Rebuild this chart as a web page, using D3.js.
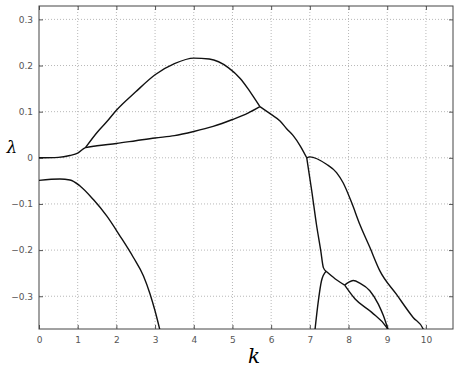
<!DOCTYPE html>
<html>
<head>
<meta charset="utf-8">
<script src="https://cdn.jsdelivr.net/npm/d3@7"></script>
<style>
  body { margin: 0; background: #fff; }
  svg { display: block; }
</style>
</head>
<body>
<div id="chart"></div>
<script>
// tick values
const xTicks = [0, 1, 2, 3, 4, 5, 6, 7, 8, 9, 10];
const yTicks = [-0.3, -0.2, -0.1, 0, 0.1, 0.2, 0.3];

// branches, [k, lambda], k increasing
const lowerRising = [[0, 0], [0.5, 0.001], [0.8, 0.005], [1.0, 0.01], [1.2, 0.022], [1.5, 0.026],
    [2, 0.031], [2.5, 0.037], [3, 0.043], [3.5, 0.048], [4, 0.057], [4.5, 0.068],
    [5, 0.083], [5.4, 0.097], [5.71, 0.111]];
const upperArch = [[1.2, 0.022], [1.5, 0.055], [1.75, 0.078], [2, 0.103], [2.5, 0.143],
    [3, 0.18], [3.5, 0.204], [4, 0.216], [4.4, 0.214], [4.9, 0.195], [5.2, 0.172],
    [5.4, 0.15], [5.6, 0.125], [5.71, 0.111]];
const merged = [[5.71, 0.111], [6.0, 0.094], [6.23, 0.08], [6.4, 0.063], [6.57, 0.048],
    [6.75, 0.026], [6.92, 0.0]];
const steepBranch = [[6.92, 0.0], [7.05, -0.072], [7.17, -0.144], [7.28, -0.2],
    [7.35, -0.238], [7.42, -0.246]];
const risingBranch = [[7.13, -0.375], [7.22, -0.31], [7.3, -0.267], [7.42, -0.246]];
const rightBranch = [[6.92, 0.0], [7.0, 0.002], [7.43, -0.014], [7.69, -0.032], [7.86, -0.054],
    [8.08, -0.097], [8.29, -0.144], [8.55, -0.194], [8.81, -0.245], [9.24, -0.296],
    [9.67, -0.346], [9.93, -0.371], [9.95, -0.375]];
const cornerBranch = [[7.42, -0.246], [7.65, -0.262], [7.9, -0.276]];
const loopUpper = [[7.9, -0.276], [8.0, -0.27], [8.12, -0.266], [8.3, -0.272], [8.55, -0.288],
    [8.77, -0.317], [8.9, -0.342], [9.02, -0.372]];
const loopLower = [[7.9, -0.276], [8.17, -0.306], [8.6, -0.335], [8.98, -0.367], [9.03, -0.374]];
const lowerFalling = [[0, -0.049], [0.54, -0.046], [0.8, -0.048], [1.06, -0.061], [1.4, -0.09],
    [1.75, -0.126], [2.09, -0.169], [2.44, -0.216], [2.7, -0.256], [2.87, -0.295],
    [3.0, -0.332], [3.13, -0.375]];

const branches = [lowerRising, upperArch, merged, steepBranch, risingBranch, rightBranch,
    cornerBranch, loopUpper, loopLower, lowerFalling];

const width = 472, height = 373;
const margin = { top: 6, right: 19, bottom: 44, left: 39 };
const w = width - margin.left - margin.right;
const h = height - margin.top - margin.bottom;

const svg = d3.select("#chart")
    .append("svg")
    .attr("width", width)
    .attr("height", height);

const g = svg.append("g")
    .attr("transform", `translate(${margin.left},${margin.top})`);

// scales
const x = d3.scaleLinear().domain([0, 10.7]).range([0, w]);
const y = d3.scaleLinear().domain([-0.371, 0.329]).range([h, 0]);

// dotted grid
g.append("g").selectAll("line")
    .data(xTicks.slice(1))
    .enter().append("line")
    .attr("x1", d => x(d)).attr("x2", d => x(d))
    .attr("y1", 0).attr("y2", h)
    .attr("stroke", "#b8b8b8")
    .attr("stroke-dasharray", "1,2");
g.append("g").selectAll("line")
    .data(yTicks)
    .enter().append("line")
    .attr("x1", 0).attr("x2", w)
    .attr("y1", d => y(d)).attr("y2", d => y(d))
    .attr("stroke", "#b8b8b8")
    .attr("stroke-dasharray", "1,2");

// axes, matlab style ticks pointing inward
const fmt = d => (d === 0 ? "0" : d3.format(".1f")(d));
const axisStyle = sel => {
    sel.select(".domain").remove();
    sel.selectAll("line").attr("stroke", "#555");
    sel.selectAll("text")
        .attr("fill", "#555")
        .style("font-family", "DejaVu Sans, sans-serif")
        .style("font-size", "9px");
};

g.append("g")
    .attr("transform", `translate(0,${h})`)
    .call(d3.axisBottom(x).tickValues(xTicks).tickSizeInner(-4).tickPadding(8).tickFormat(d3.format("d")))
    .call(axisStyle);
g.append("g")
    .call(d3.axisTop(x).tickValues(xTicks).tickSizeInner(-4).tickFormat(""))
    .call(axisStyle);
g.append("g")
    .call(d3.axisLeft(y).tickValues(yTicks).tickSizeInner(-4).tickPadding(6).tickFormat(fmt))
    .call(axisStyle);
g.append("g")
    .attr("transform", `translate(${w},0)`)
    .call(d3.axisRight(y).tickValues(yTicks).tickSizeInner(-4).tickFormat(""))
    .call(axisStyle);

// frame
g.append("rect")
    .attr("width", w)
    .attr("height", h)
    .attr("fill", "none")
    .attr("stroke", "#444")
    .attr("stroke-width", 1);

// clip the curves to the axes box
svg.append("defs").append("clipPath")
    .attr("id", "clip")
    .append("rect")
    .attr("width", w)
    .attr("height", h);

const line = d3.line()
    .x(d => x(d[0]))
    .y(d => y(d[1]))
    .curve(d3.curveMonotoneX);

g.append("g")
    .attr("clip-path", "url(#clip)")
    .selectAll("path")
    .data(branches)
    .enter().append("path")
    .attr("d", line)
    .attr("fill", "none")
    .attr("stroke", "#111")
    .attr("stroke-width", 1.4)
    .attr("stroke-linejoin", "round");

// axis labels
svg.append("text")
    .attr("x", 12)
    .attr("y", 153)
    .attr("text-anchor", "middle")
    .style("font-family", "DejaVu Serif, serif")
    .style("font-style", "italic")
    .style("font-size", "17px")
    .text("λ");

svg.append("text")
    .attr("x", 254)
    .attr("y", 363)
    .attr("text-anchor", "middle")
    .style("font-family", "DejaVu Serif, serif")
    .style("font-style", "italic")
    .style("font-size", "20px")
    .text("k");
</script>
</body>
</html>
